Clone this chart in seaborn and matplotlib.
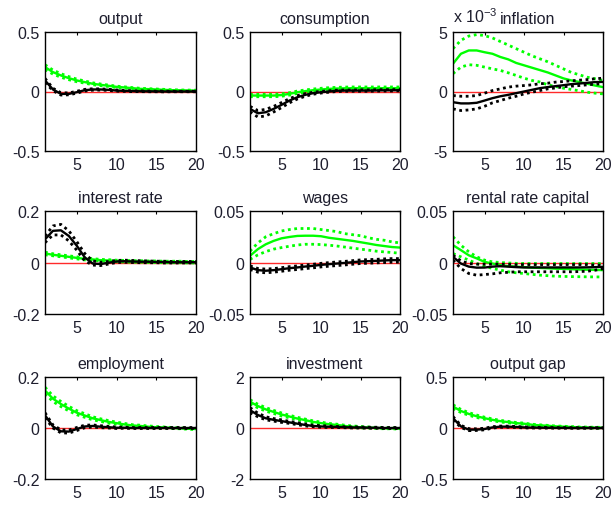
import numpy as np
import matplotlib
matplotlib.use("Agg")
import matplotlib.pyplot as plt
import seaborn as sns

# Impulse responses over 20 quarters: green = first shock, black = second shock,
# each with its lower / upper error band.
steps = list(range(1, 21))

output_g = [0.205, 0.163, 0.135, 0.112, 0.093, 0.079, 0.065, 0.056, 0.048, 0.039, 0.034, 0.028, 0.022, 0.020, 0.017, 0.014, 0.011, 0.010, 0.008, 0.007]
output_g_hi = [0.225, 0.180, 0.150, 0.125, 0.104, 0.088, 0.073, 0.063, 0.054, 0.045, 0.039, 0.033, 0.027, 0.024, 0.021, 0.018, 0.015, 0.013, 0.012, 0.011]
output_g_lo = [0.185, 0.146, 0.120, 0.099, 0.082, 0.070, 0.057, 0.049, 0.042, 0.033, 0.029, 0.023, 0.017, 0.016, 0.013, 0.010, 0.007, 0.007, 0.004, 0.003]
output_b = [0.093, 0.017, -0.020, -0.020, -0.006, 0.011, 0.017, 0.017, 0.014, 0.008, 0.005, 0.003, 0.002, 0.001, 0.001, 0.000, 0.000, 0.000, 0.000, 0.000]
output_b_hi = [0.110, 0.027, -0.010, -0.012, 0.002, 0.018, 0.023, 0.022, 0.019, 0.013, 0.009, 0.007, 0.005, 0.004, 0.003, 0.003, 0.002, 0.002, 0.002, 0.002]
output_b_lo = [0.076, 0.007, -0.030, -0.028, -0.014, 0.004, 0.011, 0.012, 0.009, 0.003, 0.001, -0.001, -0.001, -0.002, -0.002, -0.003, -0.002, -0.002, -0.002, -0.002]

cons_g = [-0.034, -0.034, -0.034, -0.034, -0.030, -0.020, -0.006, 0.003, 0.011, 0.017, 0.022, 0.025, 0.027, 0.028, 0.028, 0.028, 0.028, 0.028, 0.028, 0.028]
cons_g_hi = [-0.024, -0.024, -0.024, -0.024, -0.020, -0.010, 0.004, 0.013, 0.021, 0.027, 0.032, 0.035, 0.037, 0.038, 0.038, 0.038, 0.038, 0.038, 0.038, 0.038]
cons_g_lo = [-0.044, -0.044, -0.044, -0.044, -0.040, -0.030, -0.016, -0.007, 0.001, 0.007, 0.012, 0.015, 0.017, 0.018, 0.018, 0.018, 0.018, 0.018, 0.018, 0.018]
cons_b = [-0.146, -0.183, -0.174, -0.146, -0.112, -0.076, -0.048, -0.028, -0.014, -0.006, 0.000, 0.006, 0.008, 0.008, 0.008, 0.008, 0.009, 0.010, 0.010, 0.011]
cons_b_hi = [-0.125, -0.160, -0.150, -0.125, -0.093, -0.060, -0.035, -0.018, -0.006, 0.001, 0.006, 0.011, 0.013, 0.013, 0.014, 0.014, 0.015, 0.016, 0.016, 0.017]
cons_b_lo = [-0.170, -0.215, -0.205, -0.172, -0.135, -0.095, -0.063, -0.040, -0.023, -0.013, -0.006, 0.000, 0.002, 0.002, 0.002, 0.002, 0.003, 0.004, 0.004, 0.005]

# inflation is expressed in units of 10^-3
infl_g = [2.33, 3.17, 3.45, 3.45, 3.30, 3.17, 2.90, 2.70, 2.40, 2.20, 2.00, 1.80, 1.60, 1.35, 1.10, 0.93, 0.80, 0.65, 0.50, 0.37]
infl_g_hi = [3.60, 4.30, 4.66, 4.78, 4.70, 4.50, 4.20, 3.90, 3.60, 3.30, 3.00, 2.75, 2.50, 2.20, 1.90, 1.60, 1.40, 1.20, 1.07, 0.93]
infl_g_lo = [1.50, 2.05, 2.25, 2.20, 2.05, 1.90, 1.77, 1.57, 1.35, 1.12, 0.93, 0.80, 0.56, 0.42, 0.28, 0.17, 0.06, -0.06, -0.14, -0.20]
infl_b = [-0.90, -1.00, -1.00, -0.95, -0.76, -0.56, -0.40, -0.28, -0.14, 0.00, 0.14, 0.28, 0.37, 0.45, 0.53, 0.62, 0.67, 0.73, 0.79, 0.81]
infl_b_hi = [-0.34, -0.40, -0.40, -0.34, -0.14, 0.08, 0.22, 0.37, 0.45, 0.50, 0.56, 0.65, 0.70, 0.79, 0.84, 0.90, 0.95, 1.00, 1.07, 1.12]
infl_b_lo = [-1.46, -1.60, -1.55, -1.46, -1.24, -0.95, -0.76, -0.56, -0.40, -0.20, -0.06, 0.08, 0.22, 0.30, 0.40, 0.45, 0.50, 0.56, 0.62, 0.65]

rate_g = [0.035, 0.030, 0.026, 0.022, 0.018, 0.014, 0.012, 0.009, 0.008, 0.006, 0.005, 0.004, 0.004, 0.003, 0.003, 0.002, 0.002, 0.002, 0.001, 0.001]
rate_g_hi = [0.040, 0.034, 0.030, 0.026, 0.022, 0.018, 0.015, 0.012, 0.011, 0.009, 0.008, 0.007, 0.007, 0.006, 0.006, 0.005, 0.005, 0.005, 0.004, 0.004]
rate_g_lo = [0.030, 0.026, 0.022, 0.018, 0.014, 0.010, 0.009, 0.006, 0.005, 0.003, 0.002, 0.001, 0.001, 0.000, 0.000, -0.001, -0.001, -0.001, -0.002, -0.002]
rate_b = [0.090, 0.123, 0.125, 0.103, 0.065, 0.020, -0.004, -0.006, -0.001, 0.004, 0.005, 0.004, 0.003, 0.003, 0.002, 0.002, 0.001, 0.001, 0.001, 0.001]
rate_b_hi = [0.103, 0.142, 0.148, 0.123, 0.081, 0.035, 0.006, 0.001, 0.004, 0.008, 0.009, 0.008, 0.007, 0.006, 0.005, 0.005, 0.004, 0.004, 0.004, 0.004]
rate_b_lo = [0.077, 0.107, 0.107, 0.084, 0.048, 0.006, -0.010, -0.012, -0.006, 0.000, 0.001, 0.000, -0.001, -0.001, -0.001, -0.002, -0.002, -0.002, -0.002, -0.002]

wage_g = [0.0065, 0.0130, 0.0177, 0.0210, 0.0235, 0.0248, 0.0258, 0.0260, 0.0260, 0.0255, 0.0240, 0.0230, 0.0220, 0.0210, 0.0197, 0.0184, 0.0170, 0.0160, 0.0150, 0.0145]
wage_g_hi = [0.0110, 0.0190, 0.0250, 0.0280, 0.0306, 0.0320, 0.0330, 0.0330, 0.0330, 0.0320, 0.0310, 0.0300, 0.0280, 0.0270, 0.0260, 0.0240, 0.0225, 0.0216, 0.0200, 0.0190]
wage_g_lo = [0.0030, 0.0074, 0.0106, 0.0130, 0.0145, 0.0158, 0.0170, 0.0177, 0.0177, 0.0174, 0.0168, 0.0160, 0.0150, 0.0140, 0.0130, 0.0120, 0.0110, 0.0103, 0.0097, 0.0090]
wage_b = [-0.0048, -0.0074, -0.0080, -0.0074, -0.0065, -0.0055, -0.0048, -0.0039, -0.0032, -0.0023, -0.0016, -0.0010, -0.0004, 0.0003, 0.0010, 0.0013, 0.0016, 0.0020, 0.0023, 0.0023]
wage_b_hi = [-0.0033, -0.0058, -0.0064, -0.0059, -0.0050, -0.0040, -0.0033, -0.0024, -0.0017, -0.0008, -0.0001, 0.0005, 0.0011, 0.0018, 0.0025, 0.0028, 0.0031, 0.0035, 0.0038, 0.0038]
wage_b_lo = [-0.0068, -0.0094, -0.0100, -0.0094, -0.0085, -0.0075, -0.0068, -0.0059, -0.0052, -0.0043, -0.0036, -0.0030, -0.0024, -0.0017, -0.0010, -0.0007, -0.0004, 0.0000, 0.0003, 0.0003]

rent_g = [0.0168, 0.0120, 0.0070, 0.0040, 0.0006, -0.0010, -0.0026, -0.0036, -0.0040, -0.0045, -0.0050, -0.0053, -0.0056, -0.0060, -0.0062, -0.0065, -0.0068, -0.0070, -0.0072, -0.0074]
rent_g_hi = [0.0250, 0.0168, 0.0104, 0.0055, 0.0023, 0.0006, 0.0000, -0.0005, -0.0008, -0.0010, -0.0010, -0.0010, -0.0010, -0.0010, -0.0010, -0.0010, -0.0010, -0.0010, -0.0010, -0.0010]
rent_g_lo = [0.0087, 0.0055, 0.0023, -0.0010, -0.0036, -0.0058, -0.0074, -0.0090, -0.0100, -0.0107, -0.0115, -0.0123, -0.0128, -0.0133, -0.0135, -0.0137, -0.0138, -0.0139, -0.0140, -0.0140]
rent_b = [0.0055, -0.0010, -0.0040, -0.0050, -0.0049, -0.0040, -0.0036, -0.0040, -0.0045, -0.0048, -0.0048, -0.0048, -0.0048, -0.0048, -0.0048, -0.0048, -0.0048, -0.0047, -0.0045, -0.0042]
rent_b_hi = [0.0070, 0.0016, -0.0010, -0.0016, -0.0016, -0.0016, -0.0016, -0.0018, -0.0020, -0.0020, -0.0020, -0.0020, -0.0020, -0.0020, -0.0020, -0.0020, -0.0020, -0.0020, -0.0025, -0.0025]
rent_b_lo = [0.0023, -0.0058, -0.0107, -0.0123, -0.0117, -0.0110, -0.0100, -0.0095, -0.0090, -0.0090, -0.0090, -0.0090, -0.0090, -0.0090, -0.0090, -0.0090, -0.0088, -0.0085, -0.0075, -0.0060]

emp_g = [0.147, 0.115, 0.094, 0.076, 0.060, 0.049, 0.038, 0.031, 0.024, 0.019, 0.014, 0.010, 0.008, 0.005, 0.003, 0.002, 0.000, -0.001, -0.003, -0.004]
emp_g_hi = [0.160, 0.126, 0.104, 0.085, 0.068, 0.056, 0.044, 0.036, 0.029, 0.023, 0.018, 0.013, 0.011, 0.008, 0.006, 0.004, 0.002, 0.001, -0.001, -0.002]
emp_g_lo = [0.134, 0.104, 0.084, 0.067, 0.052, 0.042, 0.032, 0.026, 0.019, 0.015, 0.010, 0.007, 0.005, 0.002, 0.000, 0.000, -0.002, -0.003, -0.005, -0.006]
emp_b = [0.050, 0.006, -0.013, -0.014, -0.004, 0.006, 0.008, 0.005, 0.003, 0.001, 0.001, 0.000, 0.000, 0.000, 0.000, 0.000, 0.000, 0.000, 0.000, 0.000]
emp_b_hi = [0.060, 0.012, -0.007, -0.008, 0.002, 0.011, 0.012, 0.009, 0.006, 0.004, 0.003, 0.002, 0.002, 0.002, 0.002, 0.002, 0.002, 0.002, 0.002, 0.002]
emp_b_lo = [0.040, 0.000, -0.019, -0.020, -0.010, 0.001, 0.004, 0.001, 0.000, -0.002, -0.001, -0.002, -0.002, -0.002, -0.002, -0.002, -0.002, -0.002, -0.002, -0.002]

inv_g = [1.03, 0.86, 0.73, 0.63, 0.53, 0.45, 0.37, 0.31, 0.24, 0.19, 0.15, 0.12, 0.08, 0.05, 0.03, 0.02, 0.00, -0.01, -0.01, -0.03]
inv_g_hi = [1.11, 0.93, 0.80, 0.69, 0.59, 0.50, 0.42, 0.35, 0.28, 0.23, 0.18, 0.15, 0.11, 0.08, 0.06, 0.04, 0.02, 0.01, 0.01, -0.01]
inv_g_lo = [0.95, 0.79, 0.66, 0.57, 0.47, 0.40, 0.32, 0.27, 0.20, 0.15, 0.12, 0.09, 0.05, 0.02, 0.00, 0.00, -0.02, -0.03, -0.03, -0.05]
inv_b = [0.70, 0.51, 0.38, 0.32, 0.27, 0.22, 0.17, 0.12, 0.08, 0.06, 0.05, 0.04, 0.03, 0.02, 0.02, 0.01, 0.01, 0.00, 0.00, 0.00]
inv_b_hi = [0.80, 0.58, 0.44, 0.37, 0.32, 0.26, 0.21, 0.16, 0.11, 0.09, 0.08, 0.06, 0.05, 0.04, 0.04, 0.03, 0.03, 0.02, 0.02, 0.02]
inv_b_lo = [0.60, 0.44, 0.32, 0.27, 0.22, 0.18, 0.13, 0.08, 0.05, 0.03, 0.02, 0.02, 0.01, 0.00, 0.00, -0.01, -0.01, -0.02, -0.02, -0.02]

gap_g = [0.210, 0.167, 0.138, 0.115, 0.096, 0.080, 0.067, 0.058, 0.048, 0.042, 0.032, 0.026, 0.022, 0.016, 0.013, 0.010, 0.006, 0.005, 0.003, 0.003]
gap_g_hi = [0.228, 0.182, 0.151, 0.127, 0.106, 0.089, 0.075, 0.065, 0.054, 0.048, 0.037, 0.031, 0.026, 0.020, 0.017, 0.014, 0.010, 0.009, 0.007, 0.007]
gap_g_lo = [0.192, 0.152, 0.125, 0.103, 0.086, 0.071, 0.059, 0.051, 0.042, 0.036, 0.027, 0.021, 0.018, 0.012, 0.009, 0.006, 0.002, 0.001, -0.001, -0.001]
gap_b = [0.096, 0.016, -0.016, -0.016, -0.010, 0.006, 0.013, 0.013, 0.010, 0.006, 0.004, 0.003, 0.002, 0.001, 0.001, 0.000, 0.000, 0.000, 0.000, 0.000]
gap_b_hi = [0.112, 0.026, -0.006, -0.008, -0.002, 0.013, 0.019, 0.018, 0.015, 0.011, 0.008, 0.007, 0.005, 0.004, 0.004, 0.003, 0.003, 0.003, 0.003, 0.003]
gap_b_lo = [0.080, 0.006, -0.026, -0.024, -0.018, -0.001, 0.007, 0.008, 0.005, 0.001, 0.000, -0.001, -0.001, -0.002, -0.002, -0.003, -0.003, -0.003, -0.003, -0.003]

titles = ["output", "consumption", "inflation",
          "interest rate", "wages", "rental rate capital",
          "employment", "investment", "output gap"]
y_limits = [0.5, 0.5, 5, 0.2, 0.05, 0.05, 0.2, 2, 0.5]
y_ticklabels = [["-0.5", "0", "0.5"], ["-0.5", "0", "0.5"], ["-5", "0", "5"],
                ["-0.2", "0", "0.2"], ["-0.05", "0", "0.05"], ["-0.05", "0", "0.05"],
                ["-0.2", "0", "0.2"], ["-2", "0", "2"], ["-0.5", "0", "0.5"]]
x_ticks = [5, 10, 15, 20]

responses = [
    (output_g, output_g_lo, output_g_hi, output_b, output_b_lo, output_b_hi),
    (cons_g, cons_g_lo, cons_g_hi, cons_b, cons_b_lo, cons_b_hi),
    (infl_g, infl_g_lo, infl_g_hi, infl_b, infl_b_lo, infl_b_hi),
    (rate_g, rate_g_lo, rate_g_hi, rate_b, rate_b_lo, rate_b_hi),
    (wage_g, wage_g_lo, wage_g_hi, wage_b, wage_b_lo, wage_b_hi),
    (rent_g, rent_g_lo, rent_g_hi, rent_b, rent_b_lo, rent_b_hi),
    (emp_g, emp_g_lo, emp_g_hi, emp_b, emp_b_lo, emp_b_hi),
    (inv_g, inv_g_lo, inv_g_hi, inv_b, inv_b_lo, inv_b_hi),
    (gap_g, gap_g_lo, gap_g_hi, gap_b, gap_b_lo, gap_b_hi),
]

sns.set_theme(style="white")
plt.rcParams["font.family"] = ["Liberation Sans", "DejaVu Sans"]
plt.rcParams["axes.unicode_minus"] = False
plt.rcParams["mathtext.fontset"] = "custom"
plt.rcParams["mathtext.rm"] = "Liberation Sans"
plt.rcParams["mathtext.it"] = "Liberation Sans"

TEXT = "#1e1e2e"
GREEN = "#00ff00"
DOT = (0, (1.0, 1.3))
FS = 11.5

W, H = 612, 510
col_left = [45, 250, 453]
col_width = [151, 150, 150]
row_top = [33, 212, 378]
row_bottom = [152, 315, 480]

fig = plt.figure(figsize=(W / 100, H / 100), dpi=100)
fig.patch.set_facecolor("white")

for i, (title, ylim, yl, data) in enumerate(zip(titles, y_limits, y_ticklabels, responses)):
    r, c = divmod(i, 3)
    rect = [col_left[c] / W, 1 - row_bottom[r] / H,
            col_width[c] / W, (row_bottom[r] - row_top[r]) / H]
    ax = fig.add_axes(rect)
    g, g_lo, g_hi, b, b_lo, b_hi = data

    sns.lineplot(x=steps, y=[0] * len(steps), ax=ax, color="#ff2a2a", linewidth=1.0)
    sns.lineplot(x=steps, y=g, ax=ax, color=GREEN, linewidth=1.7)
    sns.lineplot(x=steps, y=g_hi, ax=ax, color=GREEN, linewidth=2.0, linestyle=DOT)
    sns.lineplot(x=steps, y=g_lo, ax=ax, color=GREEN, linewidth=2.0, linestyle=DOT)
    sns.lineplot(x=steps, y=b, ax=ax, color="black", linewidth=1.7)
    sns.lineplot(x=steps, y=b_hi, ax=ax, color="black", linewidth=2.0, linestyle=DOT)
    sns.lineplot(x=steps, y=b_lo, ax=ax, color="black", linewidth=2.0, linestyle=DOT)

    ax.set_xlim(1, 20)
    ax.set_ylim(-ylim, ylim)
    ax.set_xticks(x_ticks)
    ax.set_xticklabels([str(t) for t in x_ticks])
    ax.set_yticks([-ylim, 0, ylim])
    ax.set_yticklabels(yl)
    ax.set_xlabel("")
    ax.set_ylabel("")
    ax.tick_params(direction="in", length=2.5, width=0.8, top=True, right=True,
                   labelsize=FS, colors="black", labelcolor=TEXT, pad=4)
    for sp in ax.spines.values():
        sp.set_visible(True)
        sp.set_color("black")
        sp.set_linewidth(1.0)
    ax.set_title(title, fontsize=FS, color=TEXT, pad=6.5)
    ax.grid(False)

    if title == "inflation":
        ax.text(0.0, 1.06, r"x 10$^{-3}$", transform=ax.transAxes,
                fontsize=FS, color=TEXT, ha="left", va="bottom")

fig.savefig("out.png", dpi=100, facecolor="white")
